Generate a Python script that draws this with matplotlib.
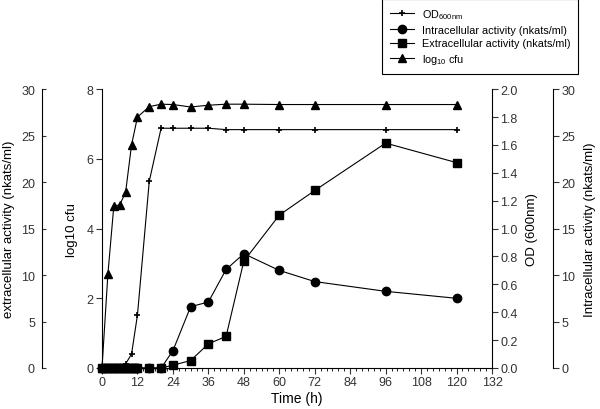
import numpy as np
import matplotlib
matplotlib.use("Agg")
import matplotlib.pyplot as plt
from matplotlib.ticker import MultipleLocator

plt.rcParams['font.family'] = ['Liberation Sans', 'DejaVu Sans']
plt.rcParams['mathtext.fontset'] = 'custom'
plt.rcParams['mathtext.rm'] = 'Liberation Sans'

# time points (h)
t_cfu = [0, 2, 4, 6, 8, 10, 12, 16, 20, 24, 30, 36, 42, 48, 60, 72, 96, 120]
log_cfu = [0, 2.7, 4.65, 4.68, 5.05, 6.4, 7.2, 7.5, 7.57, 7.56, 7.49, 7.54, 7.57, 7.57, 7.56, 7.56, 7.56, 7.56]

t_od = [0, 1, 2, 3, 4, 5, 6, 7, 8, 10, 12, 16, 20, 24, 30, 36, 42, 48, 60, 72, 96, 120]
od600 = [0, 0, 0, 0, 0, 0, 0, 0.01, 0.03, 0.1, 0.38, 1.34, 1.72, 1.72, 1.72, 1.72, 1.71, 1.71, 1.71, 1.71, 1.71, 1.71]

t_act = [0, 1, 2, 3, 4, 5, 6, 7, 8, 9, 10, 11, 12, 16, 20, 24, 30, 36, 42, 48, 60, 72, 96, 120]
intra = [0] * 15 + [1.86, 6.6, 7.1, 10.6, 12.3, 10.5, 9.3, 8.25, 7.5]
extra = [0] * 15 + [0.3, 0.8, 2.6, 3.4, 11.5, 16.45, 19.1, 24.2, 22.1]

x_ticks = np.arange(0, 133, 12)

fig = plt.figure(figsize=(6, 4.1), dpi=100)
ax = fig.add_axes([0.17, 0.1, 0.65, 0.68])
ax_od = ax.twinx()
ax_ext = ax.twinx()
ax_int = ax.twinx()

lw = 0.8
kw = dict(color='black', linewidth=lw, clip_on=False)
l_od, = ax_od.plot(t_od, od600, marker='+', markersize=5, markeredgewidth=1.2, **kw)
l_int, = ax_int.plot(t_act, intra, marker='o', markersize=6, **kw)
l_ext, = ax_ext.plot(t_act, extra, marker='s', markersize=5.5, **kw)
l_cfu, = ax.plot(t_cfu, log_cfu, marker='^', markersize=6, **kw)

ax.set_xlim(0, 132)
ax.set_xticks(x_ticks)
ax.xaxis.set_minor_locator(MultipleLocator(2))
ax.set_ylim(0, 8)
ax.set_yticks([0, 2, 4, 6, 8])
ax.set_xlabel('Time (h)', fontsize=10, labelpad=2)
ax.set_ylabel('log10 cfu', fontsize=9.5, labelpad=6)

ax_od.set_ylim(0, 2.0)
ax_od.set_yticks(np.arange(0, 2.01, 0.2))
ax_od.set_yticklabels(['%.1f' % v for v in np.arange(0, 2.01, 0.2)])
ax_od.set_ylabel('OD (600nm)', fontsize=9.5, labelpad=6)

ax_ext.set_ylim(0, 30)
ax_ext.set_yticks(np.arange(0, 31, 5))
ax_ext.spines['left'].set_position(('axes', -0.154))
ax_ext.spines['left'].set_visible(True)
ax_ext.yaxis.set_label_position('left')
ax_ext.yaxis.set_ticks_position('left')
ax_ext.set_ylabel('extracellular activity (nkats/ml)', fontsize=9.5, labelpad=4)

ax_int.set_ylim(0, 30)
ax_int.set_yticks(np.arange(0, 31, 5))
ax_int.spines['right'].set_position(('axes', 1.156))
ax_int.set_ylabel('Intracellular activity (nkats/ml)', fontsize=9.5, labelpad=6)

for a in (ax, ax_od, ax_ext, ax_int):
    a.spines['top'].set_visible(False)
    a.tick_params(labelsize=9, direction='out', length=4, width=0.8, pad=2, colors='#333333')
    a.tick_params(which='minor', length=2, width=0.6)
    for s in a.spines.values():
        s.set_linewidth(0.8)
ax_ext.tick_params(axis='y', direction='in', length=3, pad=5)
ax.spines['right'].set_visible(False)
ax_od.spines['left'].set_visible(False)
ax_int.spines['left'].set_visible(False)
ax_ext.spines['right'].set_visible(False)
ax_ext.spines['bottom'].set_visible(False)
ax_int.spines['bottom'].set_visible(False)
ax_od.spines['bottom'].set_visible(False)

leg = fig.legend([l_od, l_int, l_ext, l_cfu],
                 ['OD$_{\\mathrm{600nm}}$', 'Intracellular activity (nkats/ml)',
                  'Extracellular activity (nkats/ml)', 'log$_{\\mathrm{10}}$ cfu'],
                 loc='upper left', bbox_to_anchor=(0.628, 1.012), fontsize=7.8,
                 fancybox=False, edgecolor='black', framealpha=1,
                 handlelength=2.2, labelspacing=0.35, borderpad=0.7)
leg.get_frame().set_linewidth(0.8)

fig.savefig('out.png', dpi=100)
